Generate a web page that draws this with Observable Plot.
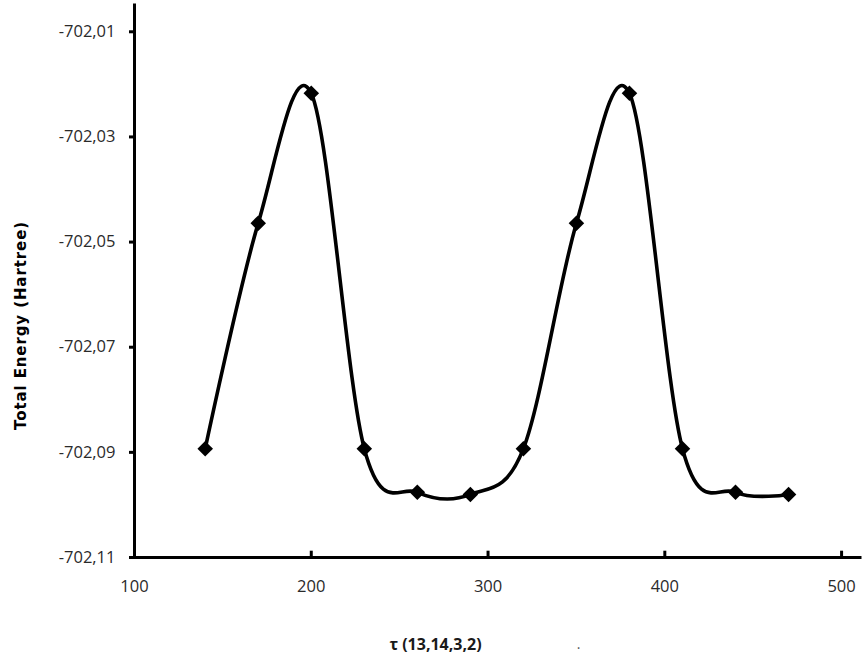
<!DOCTYPE html>
<html><head><meta charset="utf-8">
<script src="https://cdn.jsdelivr.net/npm/d3@7"></script>
<script src="https://cdn.jsdelivr.net/npm/@observablehq/plot@0.6"></script>
<style>
body{margin:0;background:#fff}
.ylab text{letter-spacing:0.9px}
</style>
</head><body><div id="chart"></div>
<script>
const tau = [140, 170, 200, 230, 260, 290, 320, 350, 380, 410, 440, 470];
const energy = [-702.0893, -702.0464, -702.0217, -702.0893, -702.0976, -702.0980,
                -702.0893, -702.0464, -702.0217, -702.0893, -702.0976, -702.0980];
const xTicks = [100, 200, 300, 400, 500];
const xInnerTicks = [200, 300, 400, 500];
const yTicks = [-702.01, -702.03, -702.05, -702.07, -702.09, -702.11];
const yTitle = "Total Energy (Hartree)";
const xTitle = "τ (13,14,3,2)";

const data = tau.map((t, i) => ({tau: t, energy: energy[i]}));
const fmt = d => d.toFixed(2).replace(".", ",");
const yMin = -702.11;

const chart = Plot.plot({
  width: 862, height: 663,
  marginLeft: 134, marginRight: 2, marginTop: 5, marginBottom: 106,
  style: {fontFamily: "'Open Sans', sans-serif", fontSize: "16.5px", color: "#2a2a2a", background: "#fff"},
  x: {domain: [100, 510.7]},
  y: {domain: [yMin, -702.005]},
  marks: [
    Plot.axisY(yTicks, {tickSize: 5, tickPadding: 14, tickFormat: fmt, label: null, strokeWidth: 3, stroke: "black"}),
    Plot.axisX(xTicks, {tickSize: 0, tickPadding: 23, label: null}),
    Plot.ruleX(xInnerTicks, {y1: yMin, y2: yMin + 0.0012, strokeWidth: 3, stroke: "black"}),
    Plot.ruleX([100], {strokeWidth: 3, stroke: "black", strokeLinecap: "square"}),
    Plot.ruleY([yMin], {strokeWidth: 3, stroke: "black", strokeLinecap: "square"}),
    Plot.line(data, {x: "tau", y: "energy", curve: "cardinal", stroke: "black", strokeWidth: 3.6}),
    Plot.dot(data, {x: "tau", y: "energy", symbol: "diamond2", r: 7, fill: "black", stroke: "none"}),
    Plot.text([yTitle], {frameAnchor: "left", textAnchor: "middle", lineAnchor: "middle", rotate: -90,
      dx: -113, dy: 44, fontWeight: "bold", fontSize: 15, fontFamily: "'DejaVu Sans', sans-serif",
      fill: "black", className: "ylab"}),
    Plot.text([xTitle], {frameAnchor: "bottom", textAnchor: "middle", lineAnchor: "middle", dx: -62, dy: 87,
      fontWeight: "bold", fontSize: 16, fill: "#1a1a1a"}),
    Plot.text(["."], {frameAnchor: "bottom", textAnchor: "middle", lineAnchor: "middle", dx: 81, dy: 87,
      fontSize: 14, fill: "#555"})
  ]
});
document.getElementById("chart").appendChild(chart);
</script>
</body></html>
